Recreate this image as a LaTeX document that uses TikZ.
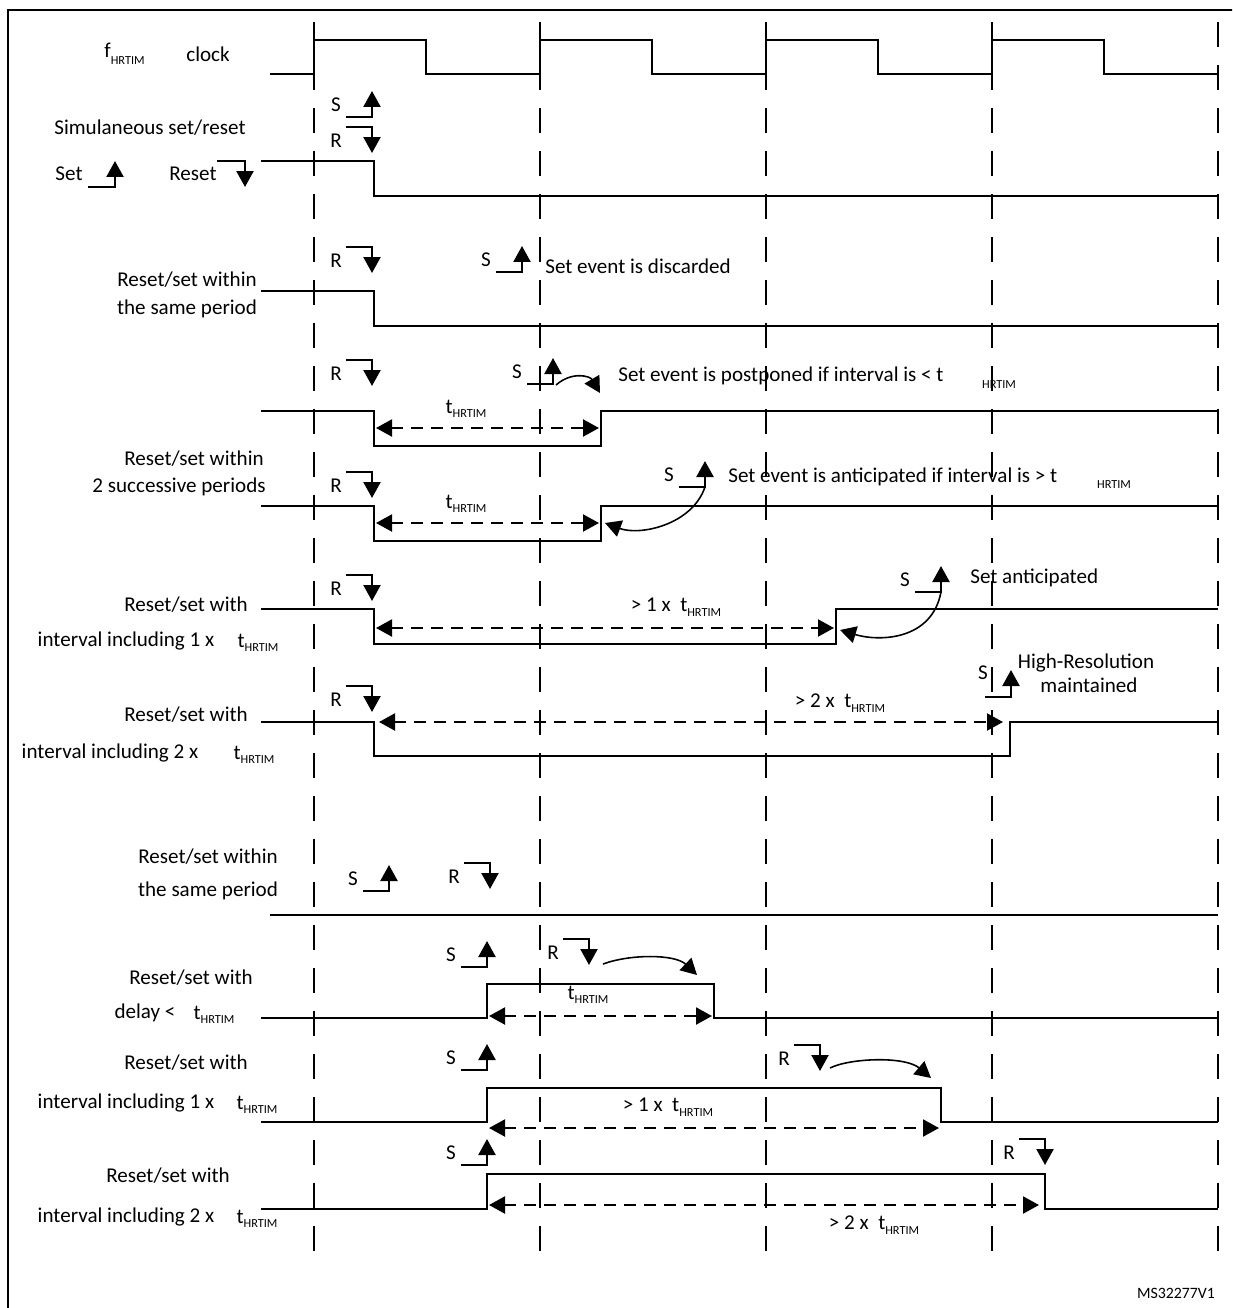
\documentclass[tikz,border=0pt]{standalone}
\usepackage{fontspec}
\setmainfont{Carlito}
\usetikzlibrary{arrows.meta}
\newcommand{\hrsub}{{\fontsize{7}{8}\selectfont HRTIM}}
\newcommand{\thr}{t\raisebox{-0.45ex}{\hrsub}}
\begin{document}
\begin{tikzpicture}[x=0.02cm, y=-0.02cm, line join=miter,
  >={Triangle[length=0.32cm,width=0.34cm]},
  sig/.style={line width=1.3pt},
  period/.style={line width=1.3pt, dash pattern=on 0.5cm off 0.36cm},
  gap/.style={<->, line width=1.2pt, dash pattern=on 0.24cm off 0.16cm},
  curv/.style={->, line width=0.9pt},
  evt/.style={->, line width=1.3pt},
  lbl/.style={font=\fontsize{12}{14}\selectfont, inner sep=0pt},
  smark/.pic={\draw[evt] (-26,0) -| (0,-26); \node[lbl] at (-36,-12) {S};},
  rmark/.pic={\draw[evt] (-26,0) -| (0,26); \node[lbl] at (-36,14) {R};}]
  \useasboundingbox (0,0) rectangle (1232,1308);
  \clip (0,0) rectangle (1232,1308);
  \draw[line width=1.2pt] (8,10) rectangle (1245,1320);
  % clock periods
  \foreach \x in {314,540,766,992,1218}
    \draw[period] (\x,22) -- (\x,1257);
  \draw[sig] (270,74) \foreach \x in {314,540,766,992} {-- (\x,74) -- (\x,40) -- (\x+112,40) -- (\x+112,74)} -- (1218,74);
  \node[lbl, anchor=west] (fclk) at (104,54) {f\raisebox{-0.7ex}{\hrsub}};
  \node[lbl, anchor=west] (clk) at (186,54) {clock};

  % simultaneous set/reset
  \node[lbl] (simul) at (150,128) {Simulaneous set/reset};
  \node[lbl] (legset) at (69,174) {Set};
  \draw[evt] (88,187) -| (115,161);
  \node[lbl] (legreset) at (193,174) {Reset};
  \draw[evt] (217,161) -| (245,187);
  \pic at (372,117) {smark};
  \pic at (372,127) {rmark};
  \draw[sig] (261,161) -- (374,161) -- (374,196) -- (1218,196);

  % reset/set within the same period
  \node[lbl] (samea) at (187,280) {Reset/set within};
  \node[lbl] (sameb) at (187,309) {the same period};
  \pic at (372,247) {rmark};
  \pic at (522,272) {smark};
  \node[lbl, anchor=west] (discard) at (545,266) {Set event is discarded};
  \draw[sig] (261,291) -- (374,291) -- (374,326) -- (1218,326);

  % postponed
  \pic at (372,360) {rmark};
  \pic at (553,384) {smark};
  \draw[curv] (556,385) .. controls (572,371) and (590,376) .. (600,393);
  \node[lbl, anchor=west] (postp) at (618,376) {Set event is postponed if interval is < t};
  \node[lbl] (postph) at (999,385) {\hrsub};
  \draw[sig] (261,411) -- (374,411) -- (374,446) -- (601,446) -- (601,411) -- (1218,411);
  \node[lbl] (tpostp) at (466,409) {\thr};
  \draw[gap] (376,428) -- (599,428);

  % anticipated
  \node[lbl] (succa) at (194,459) {Reset/set within};
  \node[lbl] (succb) at (179,487) {2 successive periods};
  \pic at (372,472) {rmark};
  \pic at (705,487) {smark};
  \node[lbl, anchor=west] (antic) at (728,477) {Set event is anticipated if interval is > t};
  \node[lbl] (antich) at (1114,485) {\hrsub};
  \draw[curv] (705,487) .. controls (692,525) and (640,536) .. (605,523);
  \draw[sig] (261,506) -- (374,506) -- (374,541) -- (601,541) -- (601,506) -- (1218,506);
  \node[lbl] (tantic) at (466,504) {\thr};
  \draw[gap] (376,523) -- (599,523);

  % interval including 1 x
  \node[lbl] (onea) at (186,605) {Reset/set with};
  \node[lbl] (oneb) at (126,641) {interval including 1 x};
  \node[lbl] (onet) at (258,643) {\thr};
  \pic at (372,575) {rmark};
  \pic at (941,592) {smark};
  \node[lbl, anchor=west] (santic) at (970,578) {Set anticipated};
  \draw[curv] (941,592) .. controls (932,640) and (880,642) .. (840,630);
  \draw[sig] (261,609) -- (374,609) -- (374,644) -- (836,644) -- (836,609) -- (1218,609);
  \draw[gap] (376,628) -- (834,628);
  \node[lbl] (onegap) at (676,607) {> 1 x \ \thr};

  % interval including 2 x
  \node[lbl] (twoa) at (186,715) {Reset/set with};
  \node[lbl] (twob) at (110,753) {interval including 2 x};
  \node[lbl] (twot) at (254,755) {\thr};
  \pic at (372,686) {rmark};
  \draw[evt] (985,697) -| (1011,670);
  \node[lbl] (hrs) at (983,673) {S};
  \node[lbl] (hra) at (1086,663) {High-Resolution};
  \node[lbl] (hrb) at (1089,685) {maintained};
  \draw[sig] (261,722) -- (374,722) -- (374,756) -- (1010,756) -- (1010,722) -- (1218,722);
  \draw[gap] (379,722) -- (1003,722);
  \node[lbl] (twogap) at (840,703) {> 2 x \ \thr};

  % set before reset, same period
  \node[lbl] (lsamea) at (208,857) {Reset/set within};
  \node[lbl] (lsameb) at (208,891) {the same period};
  \pic at (389,891) {smark};
  \pic at (490,863) {rmark};
  \draw[sig] (270,915) -- (1218,915);

  % delay < t
  \node[lbl] (dela) at (191,978) {Reset/set with};
  \node[lbl] (delb) at (145,1013) {delay <};
  \node[lbl] (delt) at (214,1015) {\thr};
  \pic at (487,967) {smark};
  \pic at (589,939) {rmark};
  \draw[curv] (603,964) .. controls (630,954) and (675,954) .. (697,975);
  \draw[sig] (261,1018) -- (487,1018) -- (487,984) -- (714,984) -- (714,1018) -- (1218,1018);
  \node[lbl] (tdel) at (588,995) {\thr};
  \draw[gap] (489,1016) -- (712,1016);

  % reset after 1 x
  \node[lbl] (lonea) at (186,1063) {Reset/set with};
  \node[lbl] (loneb) at (126,1103) {interval including 1 x};
  \node[lbl] (lonet) at (257,1105) {\thr};
  \pic at (487,1070) {smark};
  \pic at (820,1045) {rmark};
  \draw[curv] (830,1068) .. controls (850,1058) and (905,1056) .. (931,1078);
  \draw[sig] (261,1122) -- (487,1122) -- (487,1088) -- (941,1088) -- (941,1122) -- (1218,1122);
  \draw[gap] (489,1128) -- (939,1128);
  \node[lbl] (lonegap) at (668,1107) {> 1 x \ \thr};

  % reset after 2 x
  \node[lbl] (ltwoa) at (168,1176) {Reset/set with};
  \node[lbl] (ltwob) at (126,1217) {interval including 2 x};
  \node[lbl] (ltwot) at (257,1219) {\thr};
  \pic at (487,1165) {smark};
  \pic at (1045,1139) {rmark};
  \draw[sig] (261,1209) -- (487,1209) -- (487,1174) -- (1045,1174) -- (1045,1209) -- (1218,1209);
  \draw[gap] (489,1205) -- (1039,1205);
  \node[lbl] (ltwogap) at (874,1225) {> 2 x \ \thr};

  \node[lbl, font=\fontsize{9}{10}\selectfont] (ref) at (1176,1293) {MS32277V1};
\end{tikzpicture}
\end{document}
